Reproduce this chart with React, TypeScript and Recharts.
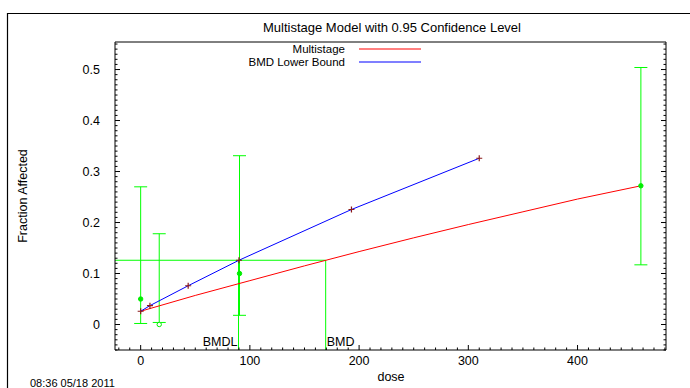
import { ComposedChart, Line, Scatter, ErrorBar, XAxis, YAxis, ReferenceLine } from 'recharts'

const FONT = '"Liberation Sans", Arial, Helvetica, sans-serif'

// observed dose groups with their 95% confidence limits
const doses = [0, 17, 90.5, 458]
const observed = [0.05, 0, 0.1, 0.272]
const ciLow = [0.002, 0.004, 0.018, 0.117]
const ciHigh = [0.27, 0.178, 0.331, 0.504]

// fitted multistage curve
const fitDose = [0, 50, 100, 150, 200, 250, 300, 350, 400, 458]
const fitResp = [0.026, 0.057, 0.086, 0.115, 0.143, 0.17, 0.196, 0.221, 0.246, 0.272]

// BMD lower bound curve
const lbDose = [0, 8.5, 43.5, 90, 193, 310]
const lbResp = [0.026, 0.037, 0.076, 0.126, 0.2255, 0.326]

const bmd = 169.4
const bmdl = 89.6
const bmr = 0.126

const xTicks = [0, 100, 200, 300, 400]
const yTicks = [0, 0.1, 0.2, 0.3, 0.4, 0.5]
const xDomain: [number, number] = [-23.5, 481]
const yDomain: [number, number] = [-0.05, 0.554]

// minor ticks every 10 dose units / every 0.01 response
const xMinor = Array.from({ length: 51 }, (_, i) => -20 + i * 10)
const yMinor = Array.from({ length: 61 }, (_, i) => Math.round((-0.05 + i * 0.01) * 1000) / 1000)

const obsData = doses.map((x, i) => ({
  x,
  y: observed[i],
  err: [observed[i] - ciLow[i], ciHigh[i] - observed[i]],
}))
const fitData = fitDose.map((x, i) => ({ x, y: fitResp[i] }))
const lbData = lbDose.map((x, i) => ({ x, y: lbResp[i] }))

const isMajorX = (v: number) => xTicks.includes(v)
const isMajorY = (v: number) => yTicks.some((t) => Math.abs(t - v) < 1e-9)

const txt = { fontFamily: FONT, fontSize: 12.5, fill: '#000' }

const BottomTick = (p: any) => {
  const v = p.payload.value
  const major = isMajorX(v)
  return (
    <g>
      <line x1={p.x} x2={p.x} y1={p.y} y2={p.y - (major ? 5 : 2.5)} stroke="#000" />
      {major && (
        <text x={p.x} y={p.y + 14.5} textAnchor="middle" {...txt}>
          {v}
        </text>
      )}
    </g>
  )
}

const TopTick = (p: any) => {
  const major = isMajorX(p.payload.value)
  return <line x1={p.x} x2={p.x} y1={p.y} y2={p.y + (major ? 5 : 2.5)} stroke="#000" />
}

const LeftTick = (p: any) => {
  const v = p.payload.value
  const major = isMajorY(v)
  return (
    <g>
      <line x1={p.x} x2={p.x + (major ? 5 : 2.5)} y1={p.y} y2={p.y} stroke="#000" />
      {major && (
        <text x={p.x - 15} y={p.y + 4.5} textAnchor="end" {...txt}>
          {v}
        </text>
      )}
    </g>
  )
}

const RightTick = (p: any) => {
  const major = isMajorY(p.payload.value)
  return <line x1={p.x} x2={p.x - (major ? 5 : 2.5)} y1={p.y} y2={p.y} stroke="#000" />
}

const ObsPoint = (p: any) => {
  if (p.cx == null || p.cy == null) return <g />
  const open = p.payload.y === 0
  return (
    <circle
      cx={p.cx}
      cy={p.cy}
      r={2.2}
      fill={open ? '#fff' : '#00ee00'}
      stroke="#00ee00"
      strokeWidth={1}
    />
  )
}

const CrossDot = (p: any) => {
  const { cx, cy } = p
  if (cx == null || cy == null) return <g key={p.index} />
  return (
    <path
      key={p.index}
      d={`M${cx - 3},${cy}h6M${cx},${cy - 3}v6`}
      stroke="#8b1a1a"
      strokeWidth={1.2}
      fill="none"
    />
  )
}

const green = '#00ff00'

export default function App() {
  return (
    <div style={{ position: 'absolute', left: 0, top: 0, width: 690, height: 388, background: '#fff', overflow: 'hidden' }}>
      <ComposedChart
        width={690}
        height={388}
        margin={{ top: 41, right: 23, bottom: 0, left: 0 }}
      >
        <XAxis
          xAxisId="b"
          dataKey="x"
          type="number"
          domain={xDomain}
          ticks={xMinor}
          interval={0}
          height={38}
          tickSize={0}
          tickMargin={0}
          tickLine={false}
          axisLine={{ stroke: '#000' }}
          tick={BottomTick}
          allowDataOverflow
        />
        <XAxis
          xAxisId="t"
          orientation="top"
          type="number"
          domain={xDomain}
          ticks={xMinor}
          interval={0}
          height={1}
          tickSize={0}
          tickMargin={0}
          tickLine={false}
          axisLine={{ stroke: '#000' }}
          tick={TopTick}
          allowDataOverflow
        />
        <YAxis
          yAxisId="l"
          dataKey="y"
          type="number"
          domain={yDomain}
          ticks={yMinor}
          interval={0}
          width={115}
          tickSize={0}
          tickMargin={0}
          tickLine={false}
          axisLine={{ stroke: '#000' }}
          tick={LeftTick}
          allowDataOverflow
        />
        <YAxis
          yAxisId="r"
          orientation="right"
          type="number"
          domain={yDomain}
          ticks={yMinor}
          interval={0}
          width={1}
          tickSize={0}
          tickMargin={0}
          tickLine={false}
          axisLine={{ stroke: '#000' }}
          tick={RightTick}
          allowDataOverflow
        />

        {/* BMR level and the BMD / BMDL drop lines */}
        <ReferenceLine
          xAxisId="b"
          yAxisId="l"
          segment={[{ x: xDomain[0], y: bmr }, { x: bmd, y: bmr }]}
          stroke={green}
          strokeWidth={1}
        />
        <ReferenceLine
          xAxisId="b"
          yAxisId="l"
          segment={[{ x: bmdl, y: yDomain[0] }, { x: bmdl, y: bmr }]}
          stroke={green}
          strokeWidth={1}
          label={(props: any) => {
            const vb = props.viewBox
            return (
              <text x={vb.x - 1} y={vb.y + vb.height - 4} textAnchor="end" {...txt}>
                BMDL
              </text>
            )
          }}
        />
        <ReferenceLine
          xAxisId="b"
          yAxisId="l"
          segment={[{ x: bmd, y: yDomain[0] }, { x: bmd, y: bmr }]}
          stroke={green}
          strokeWidth={1}
          label={(props: any) => {
            const vb = props.viewBox
            return (
              <text x={vb.x + 1} y={vb.y + vb.height - 4} textAnchor="start" {...txt}>
                BMD
              </text>
            )
          }}
        />

        <Scatter
          xAxisId="b"
          yAxisId="l"
          data={obsData}
          dataKey="y"
          shape={ObsPoint}
          isAnimationActive={false}
        >
          <ErrorBar dataKey="err" direction="y" width={6.5} stroke={green} strokeWidth={1} isAnimationActive={false} />
        </Scatter>

        <Line
          xAxisId="b"
          yAxisId="l"
          data={fitData}
          dataKey="y"
          type="linear"
          stroke="#ff0000"
          strokeWidth={1}
          dot={false}
          isAnimationActive={false}
        />
        <Line
          xAxisId="b"
          yAxisId="l"
          data={lbData}
          dataKey="y"
          type="linear"
          stroke="#0000ff"
          strokeWidth={1}
          dot={CrossDot}
          isAnimationActive={false}
        />
      </ComposedChart>

      {/* titles, legend, frame */}
      <svg
        width={690}
        height={388}
        style={{ position: 'absolute', left: 0, top: 0, pointerEvents: 'none' }}
      >
        <line x1={7.5} y1={13} x2={7.5} y2={388} stroke="#000" strokeWidth={1.2} />
        <line x1={7} y1={13.5} x2={690} y2={13.5} stroke="#000" strokeWidth={1.2} />
        <text x={392} y={32} textAnchor="middle" {...txt} fontSize={13}>
          Multistage Model with 0.95 Confidence Level
        </text>
        <text x={345} y={52.5} textAnchor="end" {...txt} fontSize={11.5}>
          Multistage
        </text>
        <line x1={359} y1={49} x2={421} y2={49} stroke="#ff0000" strokeWidth={1.2} />
        <text x={345} y={66} textAnchor="end" {...txt} fontSize={11.5}>
          BMD Lower Bound
        </text>
        <line x1={359} y1={62} x2={421} y2={62} stroke="#0000ff" strokeWidth={1.2} />
        <text x={391} y={380.5} textAnchor="middle" {...txt}>
          dose
        </text>
        <text
          x={0}
          y={0}
          textAnchor="middle"
          transform="translate(26.5,196) rotate(-90)"
          {...txt}
        >
          Fraction Affected
        </text>
        <text x={30} y={387} {...txt} fontSize={11}>
          08:36 05/18 2011
        </text>
      </svg>
    </div>
  )
}
